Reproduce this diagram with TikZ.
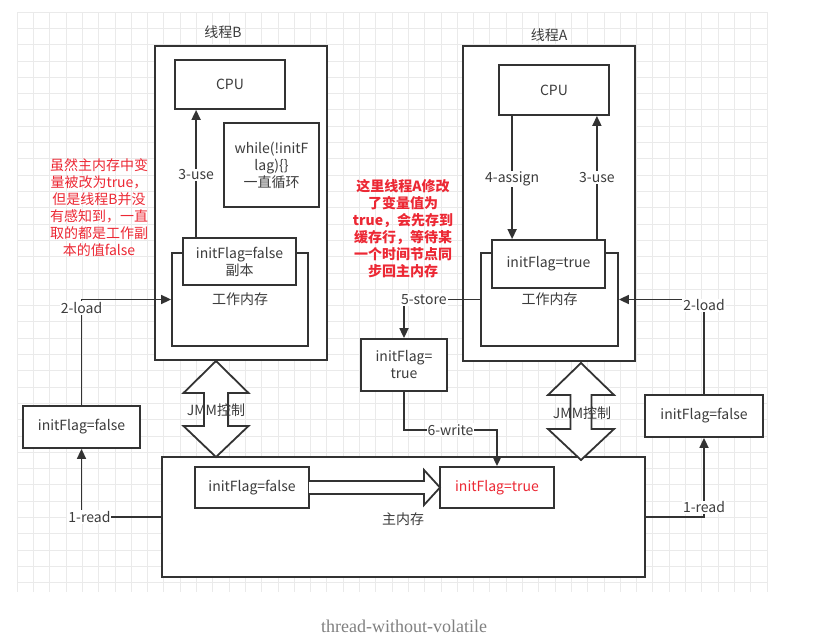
\documentclass[tikz,border=0pt]{standalone}
\usepackage{fontspec}
\setmainfont{Noto Sans CJK SC}
\newfontfamily\capfont{Liberation Serif}
\usetikzlibrary{arrows.meta}
\definecolor{lineGray}{RGB}{51,51,51}
\definecolor{textGray}{RGB}{60,60,60}
\definecolor{noteRed}{RGB}{236,40,52}
\definecolor{gridGray}{RGB}{234,234,234}

\tikzset{
  box/.style={draw=lineGray, line width=1.8pt, fill=white, inner sep=2pt, align=center,
    text=textGray, font=\fontsize{14}{17}\selectfont},
  arr/.style={draw=lineGray, line width=1.7pt, -{Triangle[length=10pt,width=9pt]}},
  lbl/.style={fill=white, inner sep=1pt, text=textGray, font=\fontsize{14}{16}\selectfont},
  note/.style={text=noteRed, align=center, font=\fontsize{14}{17}\selectfont},
  hollow/.style={draw=lineGray, line width=1.8pt, fill=white, line join=miter},
}

\begin{document}
\begin{tikzpicture}[x=1pt, y=-1pt]
    \useasboundingbox (0,0) rectangle (822,639);
    % background grid
    \foreach \gx in {0,...,46}
        \draw[gridGray, line width=0.6pt] ({17+\gx*16.3},12) -- ({17+\gx*16.3},592);
    \foreach \gy in {0,...,35}
        \draw[gridGray, line width=0.6pt] (17,{12+\gy*16.3}) -- (767,{12+\gy*16.3});

    % thread B
    \node[box, minimum width=172pt, minimum height=314pt] (tB) at (241,203) {};
    \node[text=textGray, font=\fontsize{14}{16}\selectfont] (tBname) at (223,32) {线程B};
    \node[box, minimum width=110pt, minimum height=49pt] (cpuB) at (230,84.5) {CPU};
    \node[box, minimum width=95pt, minimum height=84pt] (loopB) at (271.5,165) {while(!initF\\lag)\{\}\\一直循环};
    \node[box, minimum width=136pt, minimum height=93pt] (wmB) at (240,299.5) {\raisebox{-12pt}{工作内存}};
    \node[box, minimum width=113pt, minimum height=47pt] (fB) at (239.5,261.5) {initFlag=false\\副本};

    % thread A
    \node[box, minimum width=172pt, minimum height=315pt] (tA) at (549,203.5) {};
    \node[text=textGray, font=\fontsize{14}{16}\selectfont] (tAname) at (549,35) {线程A};
    \node[box, minimum width=110pt, minimum height=50pt] (cpuA) at (554,90) {CPU};
    \node[box, minimum width=137pt, minimum height=93pt] (wmA) at (549.5,299.5) {\raisebox{-12pt}{工作内存}};
    \node[box, minimum width=113pt, minimum height=48pt] (fA) at (548.5,264) {initFlag=true};

    % side boxes
    \node[box, minimum width=117pt, minimum height=42pt] (readL) at (81.5,427) {initFlag=false};
    \node[box, minimum width=118pt, minimum height=42pt] (readR) at (704,416) {initFlag=false};
    \node[box, minimum width=86pt, minimum height=52pt] (store) at (404,365) {initFlag=\\true};

    % main memory
    \node[box, minimum width=483pt, minimum height=120pt] (mem) at (403.5,517) {};
    \node[box, minimum width=114pt, minimum height=41pt] (memF) at (252,487.5) {initFlag=false};
    \node[box, minimum width=114pt, minimum height=41pt, text=noteRed] (memT) at (497,487.5) {initFlag=true};
    \node[text=textGray, font=\fontsize{14}{16}\selectfont] (memName) at (403,519) {主内存};

    % hollow arrows
    \draw[hollow] (309,481) -- (424,481) -- (424,470) -- (440,487.5) -- (424,505) -- (424,494) -- (309,494);
    \draw[hollow] (216,361) -- (248.5,393) -- (228,393) -- (228,426) -- (248.5,426) -- (216,457)
        -- (183.5,426) -- (204,426) -- (204,393) -- (183.5,393) -- cycle;
    \draw[hollow] (581,363) -- (614,395) -- (591.5,395) -- (591.5,429) -- (614,429) -- (581,460)
        -- (548,429) -- (570.5,429) -- (570.5,395) -- (548,395) -- cycle;
    \node[text=textGray, font=\fontsize{14}{16}\selectfont] (jmmB) at (216,410) {JMM控制};
    \node[text=textGray, font=\fontsize{14}{16}\selectfont] (jmmA) at (582,413) {JMM控制};

    % connectors
    \draw[arr] ([xshift=14pt]fB.north west) -- node[lbl, pos=0.49] {3-use} ([xshift=14pt]fB.north west |- cpuB.south);
    \draw[arr] ([xshift=14pt]cpuA.south west) -- node[lbl, pos=0.51] {4-assign} ([xshift=14pt]cpuA.south west |- fA.north);
    \draw[arr] ([xshift=-9pt]fA.north east) -- node[lbl, pos=0.5] {3-use} ([xshift=-9pt]fA.north east |- cpuA.south);
    \draw[arr] (readL.north) |- node[lbl, pos=0.46] {2-load} (wmB.west);
    \draw[arr] (readR.north) |- node[lbl, pos=0.47] {2-load} (wmA.east);
    \draw[arr] (mem.west) -| node[lbl, pos=0.45] {1-read} (readL.south);
    \draw[arr] (mem.east) -| node[lbl, pos=0.56] {1-read} (readR.south);
    \draw[arr] (wmA.west) -| node[lbl, pos=0.37] {5-store} (store.north);
    \draw[arr] (store.south) -- ++(0,38) coordinate (w6) -| node[lbl, pos=0.25] {6-write} (memT.north);

    % notes
    \node[note] (noteB) at (99,207.5) {虽然主内存中变\\量被改为true，\\但是线程B并没\\有感知到，一直\\取的都是工作副\\本的值false};
    \node[note, font=\fontsize{14}{17}\selectfont\bfseries] (noteA) at (403,228.5) {这里线程A修改\\了变量值为\\true，会先存到\\缓存行，等待某\\一个时间节点同\\步回主内存};

    \node[text=gray] (caption) at (404,626) {\capfont\fontsize{18}{20}\selectfont thread-without-volatile};
\end{tikzpicture}
\end{document}
